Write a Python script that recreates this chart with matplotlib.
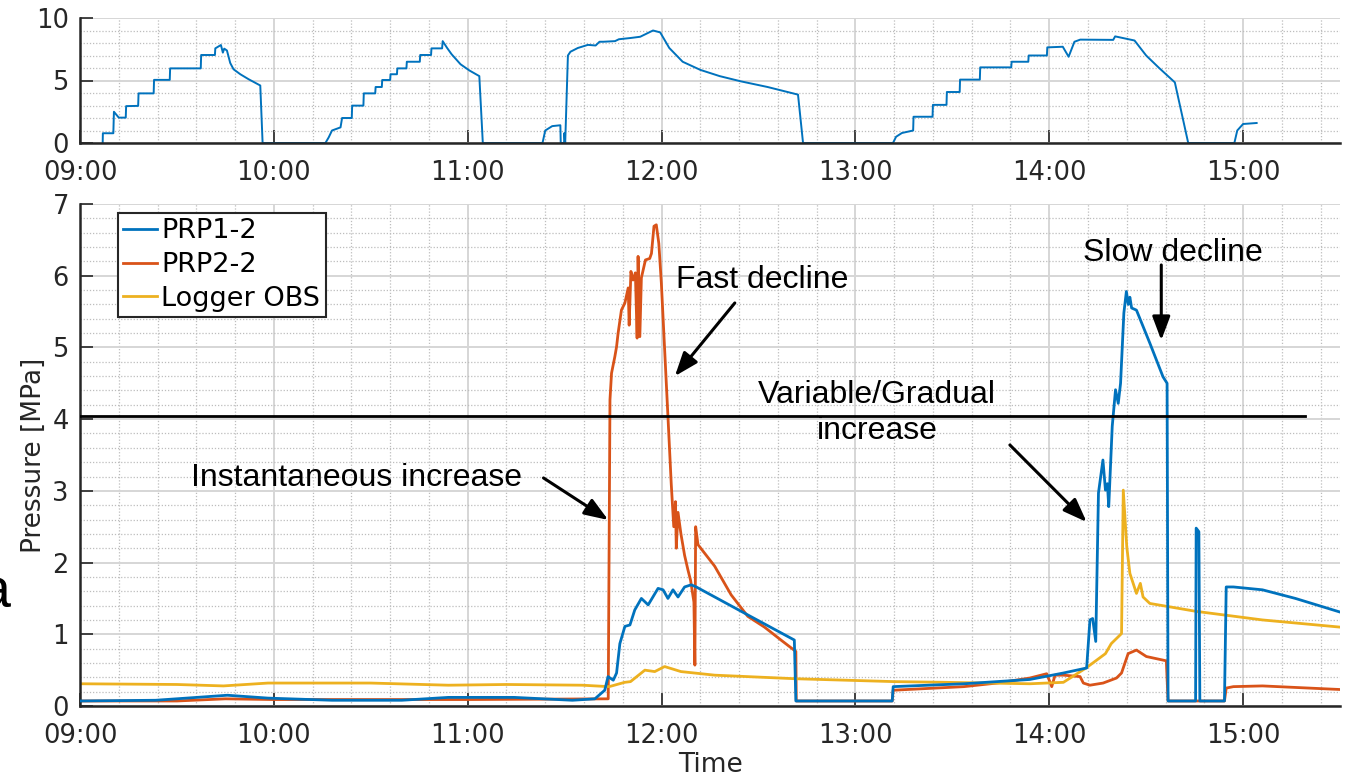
import matplotlib
matplotlib.use("Agg")
import matplotlib.pyplot as plt
from matplotlib.ticker import MultipleLocator, FixedLocator, NullFormatter

# ---------------- data (time in decimal hours) ----------------
hour_ticks = [9, 10, 11, 12, 13, 14, 15]
hour_labels = ["09:00", "10:00", "11:00", "12:00", "13:00", "14:00", "15:00"]

# top panel: PRP1-2 injection pressure record
top_t = [9.117, 9.118, 9.172, 9.175, 9.20, 9.236, 9.238, 9.300, 9.302, 9.380, 9.382,
         9.463, 9.465, 9.623, 9.625, 9.696, 9.698, 9.727, 9.737, 9.744, 9.758, 9.775,
         9.792, 9.827, 9.870, 9.930, 9.942, 10.266, 10.283, 10.300, 10.344, 10.352,
         10.402, 10.404, 10.462, 10.464, 10.523, 10.525, 10.557, 10.559, 10.600, 10.602,
         10.635, 10.637, 10.684, 10.686, 10.753, 10.755, 10.811, 10.813, 10.868, 10.871,
         10.894, 10.917, 10.963, 11.009, 11.060, 11.078, 11.386, 11.40, 11.436, 11.478,
         11.480, 11.497, 11.499, 11.503, 11.517, 11.53, 11.568, 11.62, 11.66, 11.68,
         11.70, 11.76, 11.78, 11.84, 11.89, 11.956, 11.993, 12.04, 12.109, 12.20, 12.30,
         12.41, 12.547, 12.704, 12.730, 13.194, 13.21, 13.24, 13.298, 13.300, 13.398,
         13.400, 13.470, 13.472, 13.538, 13.540, 13.642, 13.644, 13.804, 13.806, 13.892,
         13.894, 13.988, 13.990, 14.07, 14.10, 14.13, 14.16, 14.33, 14.34, 14.44, 14.50,
         14.567, 14.648, 14.717, 14.955, 14.97, 15.00, 15.07]
top_v = [0.0, 0.78, 0.78, 2.5, 2.03, 2.03, 2.95, 2.97, 3.97, 3.97, 5.05,
         5.05, 5.97, 5.97, 7.04, 7.04, 7.57, 7.84, 7.23, 7.55, 7.4, 6.4,
         5.9, 5.5, 5.1, 4.6, 0.0, 0.0, 0.45, 1.0, 1.25, 2.0,
         2.0, 2.99, 2.99, 3.97, 3.97, 4.48, 4.48, 5.04, 5.04, 5.5,
         5.5, 5.97, 5.97, 6.5, 6.5, 7.04, 7.04, 7.57, 7.57, 8.15,
         7.6, 7.1, 6.3, 5.8, 5.35, 0.0, 0.0, 1.0, 1.35, 1.42,
         0.0, 0.0, 0.8, 0.0, 7.0, 7.3, 7.6, 7.85, 7.8, 8.1,
         8.1, 8.15, 8.3, 8.4, 8.5, 9.0, 8.85, 7.6, 6.5, 5.85, 5.35,
         4.93, 4.48, 3.87, 0.0, 0.0, 0.5, 0.8, 1.0, 2.1, 2.1,
         3.05, 3.05, 4.08, 4.08, 5.07, 5.07, 6.05, 6.05, 6.5, 6.5,
         7.0, 7.0, 7.65, 7.7, 6.9, 8.1, 8.27, 8.25, 8.53, 8.2, 7.0,
         6.0, 4.85, 0.0, 0.0, 1.0, 1.52, 1.6]

# main panel
prp1_t = [9.0, 9.39, 9.55, 9.76, 9.97, 10.3, 10.66, 10.9, 11.24, 11.54, 11.656, 11.707,
          11.724, 11.751, 11.768, 11.785, 11.811, 11.837, 11.862, 11.896, 11.931, 11.982,
          12.008, 12.033, 12.059, 12.085, 12.119, 12.153, 12.179, 12.445, 12.685, 12.693,
          13.19, 13.195, 13.56, 13.9, 14.073, 14.193, 14.21, 14.224, 14.24, 14.254, 14.277,
          14.29, 14.30, 14.307, 14.325, 14.342, 14.356, 14.368, 14.385, 14.398, 14.408,
          14.416, 14.425, 14.45, 14.519, 14.587, 14.608, 14.613, 14.755, 14.758, 14.772,
          14.777, 14.904, 14.913, 14.95, 15.1, 15.27, 15.5]
prp1_v = [0.07, 0.08, 0.11, 0.15, 0.11, 0.08, 0.08, 0.12, 0.12, 0.08, 0.1, 0.22,
          0.41, 0.36, 0.46, 0.87, 1.11, 1.13, 1.34, 1.5, 1.41, 1.64,
          1.62, 1.5, 1.62, 1.52, 1.66, 1.69, 1.66, 1.27, 0.92, 0.07,
          0.07, 0.27, 0.31, 0.37, 0.46, 0.53, 1.2, 1.22, 0.9, 2.97, 3.43,
          3.01, 3.1, 2.78, 3.9, 4.41, 4.22, 4.5, 5.48, 5.78, 5.6,
          5.7, 5.55, 5.52, 5.06, 4.59, 4.5, 0.07, 0.07, 2.48, 2.43,
          0.07, 0.07, 1.66, 1.66, 1.62, 1.5, 1.31]

prp2_t = [9.0, 9.5, 9.75, 10.0, 11.0, 11.725, 11.734, 11.742, 11.759, 11.768, 11.776,
          11.793, 11.811, 11.828, 11.833, 11.842, 11.853, 11.865, 11.874, 11.879, 11.888,
          11.896, 11.917, 11.939, 11.948, 11.961, 11.973, 11.986, 11.999, 12.016, 12.033,
          12.05, 12.063, 12.072, 12.076, 12.085, 12.10, 12.119, 12.136, 12.15, 12.167,
          12.172, 12.176, 12.188, 12.274, 12.359, 12.445, 12.531, 12.616, 12.693, 12.695,
          13.19, 13.195, 13.56, 13.73, 13.9, 13.987, 14.013, 14.03, 14.073, 14.159,
          14.176, 14.21, 14.278, 14.347, 14.373, 14.407, 14.45, 14.501, 14.604, 14.613,
          14.904, 14.913, 14.95, 15.1, 15.5]
prp2_v = [0.07, 0.07, 0.1, 0.09, 0.09, 0.1, 4.27, 4.64, 4.87, 5.01, 5.2,
          5.52, 5.62, 5.83, 5.31, 6.06, 5.94, 6.04, 5.13, 6.27, 5.15,
          5.97, 6.22, 6.24, 6.31, 6.69, 6.71, 6.45, 5.9, 4.97, 4.04,
          3.1, 2.5, 2.85, 2.2, 2.7, 2.4, 2.1, 1.9, 1.75, 1.45,
          0.57, 2.5, 2.25, 1.95, 1.55, 1.25, 1.1, 0.92, 0.76, 0.07,
          0.07, 0.22, 0.27, 0.32, 0.39, 0.45, 0.27, 0.43, 0.43, 0.41,
          0.32, 0.29, 0.32, 0.39, 0.46, 0.73, 0.78, 0.69, 0.63, 0.07,
          0.07, 0.25, 0.27, 0.28, 0.23]

obs_t = [9.0, 9.5, 9.74, 9.97, 10.5, 10.9, 11.2, 11.59, 11.73, 11.81, 11.84, 11.914,
         11.965, 12.016, 12.10, 12.274, 12.693, 13.2, 13.473, 13.9, 14.073, 14.19, 14.29,
         14.32, 14.373, 14.382, 14.40, 14.416, 14.45, 14.47, 14.484, 14.519, 14.757,
         15.1, 15.5]
obs_v = [0.31, 0.3, 0.28, 0.32, 0.32, 0.29, 0.3, 0.29, 0.27, 0.33, 0.34, 0.5,
         0.48, 0.55, 0.48, 0.43, 0.38, 0.34, 0.33, 0.31, 0.33, 0.53, 0.73,
         0.87, 1.01, 3.01, 2.22, 1.85, 1.57, 1.71, 1.52, 1.43, 1.32,
         1.2, 1.1]

threshold_p = 4.04
threshold_end = 15.32

series_names = ["PRP1-2", "PRP2-2", "Logger OBS"]
colors = ["#0072BD", "#D95319", "#EDB120"]

# ---------------- styling ----------------
TXT = "#262626"
fig = plt.figure(figsize=(13.5, 7.79), dpi=100)
ax_top = fig.add_axes([80/1350, 1-143/779, 1260/1350, 125/779])
ax = fig.add_axes([80/1350, 1-706/779, 1260/1350, 502/779])


def style(a, ymaj, ymin, ylim, xpad):
    a.set_xlim(9.0, 15.5)
    a.set_ylim(*ylim)
    a.xaxis.set_major_locator(FixedLocator(hour_ticks))
    a.set_xticklabels(hour_labels)
    a.xaxis.set_minor_locator(MultipleLocator(0.2))
    a.yaxis.set_major_locator(MultipleLocator(ymaj))
    a.yaxis.set_minor_locator(MultipleLocator(ymin))
    a.xaxis.set_minor_formatter(NullFormatter())
    a.yaxis.set_minor_formatter(NullFormatter())
    for s in ["top", "right"]:
        a.spines[s].set_visible(False)
    for s in ["left", "bottom"]:
        a.spines[s].set_linewidth(1.8)
        a.spines[s].set_color(TXT)
    a.tick_params(which="major", direction="in", length=9.5, width=1.2, colors=TXT,
                  labelsize=18.5, labelcolor=TXT)
    a.tick_params(axis="x", which="major", pad=xpad)
    a.tick_params(axis="y", which="major", pad=8)
    a.tick_params(which="minor", length=0)
    a.grid(which="major", color="#d6d6d6", linestyle="-", linewidth=1.4)
    a.grid(which="minor", color="#bdbdbd", linestyle=(0, (1, 1.5)), linewidth=0.9)
    a.set_axisbelow(True)


style(ax_top, 5, 1, (0, 10), 12.5)
style(ax, 1, 0.2, (0, 7), 12.5)

ax_top.plot(top_t, top_v, color=colors[0], lw=1.4)

ax.plot(prp1_t, prp1_v, color=colors[0], lw=2.0, label=series_names[0], zorder=3)
ax.plot(prp2_t, prp2_v, color=colors[1], lw=2.0, label=series_names[1], zorder=2)
ax.plot(obs_t, obs_v, color=colors[2], lw=2.0, label=series_names[2], zorder=2.5)
ax.plot([9.0, threshold_end], [threshold_p, threshold_p], color="black", lw=2.0, zorder=4)

ax.set_ylabel("Pressure [MPa]", fontsize=19, color=TXT)
ax.yaxis.set_label_coords(-0.026, 0.5)
ax.set_xlabel("Time", fontsize=19, color=TXT)
ax.xaxis.set_label_coords(0.5, -0.092)

leg = ax.legend(loc="upper left", bbox_to_anchor=(0.0302, 0.982), fontsize=19.5,
                frameon=True, fancybox=False, framealpha=1, edgecolor="#262626",
                handlelength=1.25, handletextpad=0.15, borderpad=0.2,
                labelspacing=0.28, borderaxespad=0)
leg.get_frame().set_linewidth(1.5)

ann_font = dict(fontsize=23, family="Liberation Sans", color="black")
arrow = dict(arrowstyle="-|>,head_length=0.72,head_width=0.27", lw=2.2, color="black",
             shrinkA=0, shrinkB=0, mutation_scale=20)

ax.text(10.424, 3.18, "Instantaneous increase", ha="center", va="center", **ann_font)
ax.annotate("", xy=(11.725, 2.594), xytext=(11.391, 3.18), arrowprops=arrow)

ax.text(12.517, 5.94, "Fast decline", ha="center", va="center", **ann_font)
ax.annotate("", xy=(12.069, 4.60), xytext=(12.378, 5.62), arrowprops=arrow)

ax.text(13.113, 4.09, "Variable/Gradual\nincrease", ha="center", va="center",
        linespacing=1.25, **ann_font)
ax.annotate("", xy=(14.193, 2.566), xytext=(13.797, 3.64), arrowprops=arrow)

ax.text(14.64, 6.32, "Slow decline", ha="center", va="center", **ann_font)
ax.annotate("", xy=(14.578, 5.10), xytext=(14.578, 6.15), arrowprops=arrow)

fig.text(10/1350, 1-607/779, "a", ha="right", va="baseline", fontsize=40,
         family="Liberation Sans", color="black")

fig.savefig("out.png", dpi=100)
